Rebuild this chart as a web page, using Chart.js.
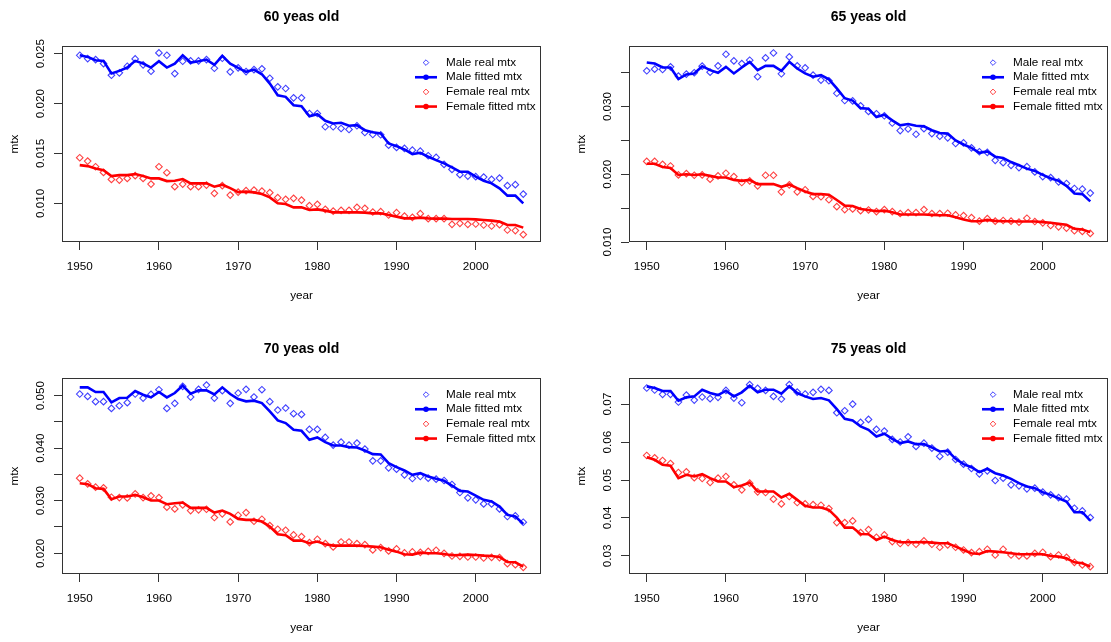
<!DOCTYPE html>
<html>
<head>
<meta charset="utf-8">
<script src="https://cdn.jsdelivr.net/npm/chart.js@4/dist/chart.umd.min.js"></script>
<style>
  body { margin: 0; background: #fff; overflow: hidden; }
  #wrap { position: relative; width: 1111px; height: 642px; overflow: hidden; background: #fff; }
  #wrap canvas { position: absolute; }
</style>
</head>
<body>
<div id="wrap">
  <canvas id="p60" width="567" height="332" style="left:0;top:0"></canvas>
  <canvas id="p65" width="567" height="332" style="left:567px;top:0"></canvas>
  <canvas id="p70" width="567" height="332" style="left:0;top:332px"></canvas>
  <canvas id="p75" width="567" height="332" style="left:567px;top:332px"></canvas>
</div>
<script>
// years 1950..2006
const years = [];
for (let y = 1950; y <= 2006; y++) years.push(y);

const xTicks = [1950, 1960, 1970, 1980, 1990, 2000];

// 60 years old
const m60Real = [0.02483,0.02450,0.02440,0.02400,0.02283,0.02307,0.02373,0.02447,0.02387,0.02323,
  0.02507,0.02483,0.02300,0.02423,0.02427,0.02427,0.02440,0.02353,0.02453,0.02317,
  0.02357,0.02320,0.02340,0.02347,0.02253,0.02167,0.02150,0.02057,0.02057,0.01900,
  0.01900,0.01767,0.01767,0.01750,0.01740,0.01777,0.01710,0.01690,0.01687,0.01583,
  0.01560,0.01550,0.01533,0.01523,0.01477,0.01460,0.01390,0.01340,0.01287,0.01273,
  0.01267,0.01263,0.01240,0.01253,0.01177,0.01187,0.01093];
const m60Fit = [0.02483,0.02467,0.02433,0.02427,0.02300,0.02327,0.02360,0.02427,0.02400,0.02360,
  0.02423,0.02360,0.02400,0.02483,0.02410,0.02423,0.02440,0.02387,0.02477,0.02400,
  0.02357,0.02317,0.02340,0.02293,0.02200,0.02083,0.02067,0.01983,0.01973,0.01873,
  0.01893,0.01827,0.01800,0.01807,0.01777,0.01783,0.01733,0.01713,0.01700,0.01600,
  0.01573,0.01540,0.01493,0.01507,0.01467,0.01433,0.01400,0.01360,0.01317,0.01317,
  0.01267,0.01227,0.01200,0.01150,0.01077,0.01077,0.01000];
const f60Real = [0.01457,0.01423,0.01367,0.01310,0.01240,0.01233,0.01250,0.01277,0.01250,0.01193,
  0.01367,0.01307,0.01167,0.01193,0.01167,0.01167,0.01183,0.01100,0.01177,0.01083,
  0.01113,0.01127,0.01133,0.01123,0.01107,0.01057,0.01040,0.01050,0.01033,0.00977,
  0.00990,0.00940,0.00923,0.00930,0.00930,0.00960,0.00950,0.00913,0.00917,0.00883,
  0.00907,0.00873,0.00860,0.00897,0.00847,0.00847,0.00847,0.00790,0.00800,0.00790,
  0.00793,0.00783,0.00773,0.00787,0.00733,0.00727,0.00687];
const f60Fit = [0.01383,0.01373,0.01350,0.01333,0.01273,0.01283,0.01283,0.01293,0.01273,0.01250,
  0.01250,0.01223,0.01227,0.01243,0.01200,0.01200,0.01200,0.01167,0.01187,0.01153,
  0.01113,0.01117,0.01110,0.01093,0.01060,0.01000,0.00993,0.00960,0.00960,0.00933,
  0.00940,0.00927,0.00910,0.00910,0.00910,0.00910,0.00907,0.00900,0.00900,0.00883,
  0.00867,0.00850,0.00850,0.00857,0.00850,0.00847,0.00847,0.00843,0.00843,0.00843,
  0.00840,0.00833,0.00827,0.00817,0.00783,0.00783,0.00757];

// 65 years old
const m65Real = [0.03527,0.03551,0.03546,0.03585,0.03449,0.03478,0.03498,0.03595,0.03507,0.03600,
  0.03771,0.03673,0.03634,0.03683,0.03439,0.03717,0.03790,0.03483,0.03732,0.03600,
  0.03571,0.03463,0.03390,0.03380,0.03195,0.03088,0.03083,0.03010,0.02927,0.02893,
  0.02863,0.02756,0.02644,0.02668,0.02590,0.02673,0.02600,0.02561,0.02537,0.02454,
  0.02463,0.02390,0.02332,0.02322,0.02205,0.02171,0.02132,0.02098,0.02112,0.02034,
  0.01966,0.01951,0.01888,0.01863,0.01790,0.01780,0.01722];
const m65Fit = [0.03649,0.03634,0.03576,0.03576,0.03405,0.03473,0.03488,0.03595,0.03537,0.03498,
  0.03585,0.03488,0.03576,0.03659,0.03537,0.03600,0.03600,0.03527,0.03659,0.03561,
  0.03488,0.03439,0.03463,0.03400,0.03268,0.03122,0.03088,0.02976,0.02966,0.02844,
  0.02878,0.02795,0.02722,0.02741,0.02717,0.02707,0.02649,0.02610,0.02600,0.02498,
  0.02439,0.02390,0.02317,0.02337,0.02259,0.02239,0.02180,0.02132,0.02083,0.02049,
  0.01990,0.01941,0.01902,0.01829,0.01717,0.01707,0.01600];
const f65Real = [0.02190,0.02190,0.02146,0.02122,0.01990,0.02010,0.01985,0.01990,0.01927,0.01976,
  0.02015,0.01966,0.01878,0.01902,0.01829,0.01985,0.01985,0.01741,0.01844,0.01741,
  0.01771,0.01673,0.01668,0.01624,0.01522,0.01478,0.01488,0.01463,0.01473,0.01449,
  0.01478,0.01449,0.01420,0.01434,0.01434,0.01478,0.01420,0.01420,0.01424,0.01400,
  0.01390,0.01361,0.01307,0.01346,0.01307,0.01317,0.01307,0.01293,0.01351,0.01302,
  0.01283,0.01244,0.01224,0.01205,0.01166,0.01156,0.01127];
const f65Fit = [0.02156,0.02156,0.02107,0.02093,0.01990,0.02000,0.01990,0.02000,0.01976,0.01951,
  0.01951,0.01917,0.01902,0.01917,0.01854,0.01854,0.01854,0.01815,0.01849,0.01795,
  0.01746,0.01707,0.01707,0.01698,0.01620,0.01537,0.01532,0.01488,0.01473,0.01454,
  0.01463,0.01439,0.01405,0.01405,0.01405,0.01405,0.01400,0.01395,0.01395,0.01366,
  0.01332,0.01307,0.01307,0.01327,0.01312,0.01307,0.01307,0.01302,0.01302,0.01302,
  0.01293,0.01283,0.01268,0.01254,0.01195,0.01185,0.01146];

// 70 years old
const m70Real = [0.05032,0.04987,0.04886,0.04886,0.04758,0.04809,0.04867,0.05032,0.04955,0.05025,
  0.05114,0.04758,0.04854,0.05178,0.04975,0.05121,0.05203,0.04955,0.05095,0.04854,
  0.05051,0.05121,0.04975,0.05114,0.04886,0.04727,0.04765,0.04657,0.04644,0.04358,
  0.04358,0.04205,0.04059,0.04116,0.04059,0.04097,0.03983,0.03760,0.03760,0.03627,
  0.03601,0.03493,0.03423,0.03462,0.03430,0.03411,0.03385,0.03309,0.03156,0.03055,
  0.03017,0.02940,0.02940,0.02845,0.02699,0.02711,0.02591];
const m70Fit = [0.05159,0.05159,0.05070,0.05070,0.04873,0.04955,0.04962,0.05089,0.05019,0.04968,
  0.05070,0.04968,0.05051,0.05191,0.05038,0.05102,0.05102,0.05025,0.05159,0.05032,
  0.04936,0.04892,0.04905,0.04860,0.04701,0.04530,0.04479,0.04352,0.04332,0.04161,
  0.04205,0.04116,0.04053,0.04053,0.04021,0.04015,0.03957,0.03887,0.03881,0.03716,
  0.03640,0.03576,0.03493,0.03525,0.03462,0.03417,0.03379,0.03290,0.03188,0.03175,
  0.03099,0.03017,0.02985,0.02889,0.02730,0.02699,0.02559];
const f70Real = [0.03430,0.03322,0.03258,0.03245,0.03067,0.03060,0.03054,0.03131,0.03060,0.03093,
  0.03060,0.02877,0.02845,0.02921,0.02813,0.02826,0.02838,0.02680,0.02750,0.02597,
  0.02724,0.02775,0.02610,0.02648,0.02527,0.02457,0.02438,0.02349,0.02317,0.02203,
  0.02266,0.02184,0.02120,0.02215,0.02215,0.02184,0.02165,0.02063,0.02107,0.02044,
  0.02082,0.02006,0.02025,0.02018,0.02037,0.02057,0.01999,0.01948,0.01942,0.01929,
  0.01929,0.01910,0.01923,0.01917,0.01802,0.01783,0.01732];
const f70Fit = [0.03334,0.03315,0.03239,0.03226,0.03029,0.03080,0.03080,0.03112,0.03067,0.03004,
  0.03004,0.02934,0.02953,0.02966,0.02864,0.02864,0.02864,0.02775,0.02813,0.02750,
  0.02654,0.02635,0.02635,0.02603,0.02508,0.02362,0.02343,0.02241,0.02241,0.02190,
  0.02222,0.02171,0.02146,0.02146,0.02146,0.02146,0.02139,0.02127,0.02114,0.02069,
  0.02031,0.01980,0.01974,0.02012,0.01999,0.01999,0.01987,0.01961,0.01968,0.01974,
  0.01968,0.01955,0.01948,0.01929,0.01834,0.01828,0.01745];

// 75 years old
const m75Real = [0.07422,0.07369,0.07255,0.07255,0.07053,0.07237,0.07105,0.07185,0.07141,0.07176,
  0.07360,0.07158,0.07035,0.07510,0.07413,0.07360,0.07202,0.07132,0.07510,0.07316,
  0.07264,0.07308,0.07387,0.07360,0.06771,0.06824,0.07000,0.06516,0.06596,0.06332,
  0.06288,0.06068,0.06000,0.06138,0.05884,0.05971,0.05840,0.05620,0.05734,0.05541,
  0.05418,0.05303,0.05163,0.05242,0.04987,0.05048,0.04873,0.04846,0.04767,0.04785,
  0.04679,0.04609,0.04538,0.04495,0.04257,0.04187,0.04011];
const m75Fit = [0.07466,0.07422,0.07343,0.07343,0.07088,0.07176,0.07202,0.07378,0.07290,0.07237,
  0.07352,0.07202,0.07308,0.07484,0.07308,0.07378,0.07378,0.07273,0.07466,0.07290,
  0.07202,0.07132,0.07158,0.07097,0.06868,0.06613,0.06569,0.06411,0.06323,0.06147,
  0.06218,0.06086,0.05971,0.06015,0.05945,0.05945,0.05857,0.05752,0.05769,0.05558,
  0.05418,0.05338,0.05207,0.05295,0.05180,0.05119,0.05031,0.04916,0.04829,0.04785,
  0.04679,0.04609,0.04521,0.04433,0.04152,0.04152,0.03932];
const f75Real = [0.05646,0.05585,0.05514,0.05435,0.05198,0.05215,0.05062,0.05040,0.04934,0.05048,
  0.05092,0.04873,0.04741,0.04916,0.04688,0.04670,0.04495,0.04371,0.04565,0.04407,
  0.04371,0.04354,0.04336,0.04248,0.03879,0.03879,0.03923,0.03615,0.03695,0.03492,
  0.03554,0.03378,0.03327,0.03352,0.03308,0.03396,0.03308,0.03229,0.03290,0.03229,
  0.03158,0.03088,0.03114,0.03176,0.03026,0.03176,0.03026,0.03000,0.03000,0.03070,
  0.03097,0.02982,0.03026,0.02965,0.02833,0.02763,0.02719];
const f75Fit = [0.05602,0.05532,0.05400,0.05374,0.05048,0.05136,0.05092,0.05154,0.05048,0.04960,
  0.04960,0.04811,0.04855,0.04934,0.04697,0.04697,0.04697,0.04538,0.04635,0.04477,
  0.04319,0.04275,0.04275,0.04213,0.04011,0.03747,0.03747,0.03580,0.03571,0.03422,
  0.03510,0.03422,0.03360,0.03360,0.03360,0.03369,0.03352,0.03334,0.03334,0.03246,
  0.03158,0.03070,0.03053,0.03132,0.03114,0.03097,0.03070,0.03044,0.03044,0.03053,
  0.03044,0.03000,0.02982,0.02938,0.02833,0.02807,0.02719];

// y axis ticks and labels per panel
const yTicks60 = [0.010, 0.015, 0.020, 0.025];
const yLabels60 = ['0.010', '0.015', '0.020', '0.025'];
const yTicks65 = [0.010, 0.015, 0.020, 0.025, 0.030, 0.035];
const yLabels65 = ['0.010', '', '0.020', '', '0.030', ''];
const yTicks70 = [0.020, 0.025, 0.030, 0.035, 0.040, 0.045, 0.050];
const yLabels70 = ['0.020', '', '0.030', '', '0.040', '', '0.050'];
const yTicks75 = [0.03, 0.04, 0.05, 0.06, 0.07];
const yLabels75 = ['0.03', '0.04', '0.05', '0.06', '0.07'];

const seriesNames = ['Male real mtx', 'Male fitted mtx', 'Female real mtx', 'Female fitted mtx'];

Chart.defaults.font.family = '"Liberation Sans", Arial, sans-serif';
Chart.defaults.font.size = 11.7;
Chart.defaults.color = '#000';

const FONT = '11.7px "Liberation Sans", Arial, sans-serif';
const meas = document.createElement('canvas').getContext('2d');
meas.font = FONT;

// box round the plot region, like R's box()
const frame = {
  id: 'frame',
  beforeDatasetsDraw(chart) {
    const { ctx, chartArea: a } = chart;
    ctx.save();
    ctx.strokeStyle = '#333';
    ctx.lineWidth = 1;
    ctx.strokeRect(Math.round(a.left) + 0.5, Math.round(a.top) + 0.5, Math.round(a.width) - 1, Math.round(a.height) - 1);
    ctx.restore();
  }
};

// legend inside the top right corner, no box
const rLegend = {
  id: 'rLegend',
  afterDraw(chart) {
    const { ctx, chartArea: a } = chart;
    const cx = a.right - 115;
    const tx = a.right - 95;
    chart.data.datasets.forEach((ds, i) => {
      const y = a.top + 16.6 + i * 14.65;
      ctx.save();
      ctx.strokeStyle = ds.borderColor;
      ctx.fillStyle = ds.borderColor;
      if (ds.showLine === false) {
        const r = 2.8;
        ctx.lineWidth = 1;
        ctx.beginPath();
        ctx.moveTo(cx, y - r); ctx.lineTo(cx + r, y); ctx.lineTo(cx, y + r); ctx.lineTo(cx - r, y);
        ctx.closePath();
        ctx.stroke();
      } else {
        ctx.lineWidth = 2.6;
        ctx.beginPath();
        ctx.moveTo(cx - 11, y); ctx.lineTo(cx + 11, y);
        ctx.stroke();
        ctx.beginPath();
        ctx.arc(cx, y, 2.8, 0, Math.PI * 2);
        ctx.fill();
      }
      ctx.fillStyle = '#000';
      ctx.font = FONT;
      ctx.textBaseline = 'middle';
      ctx.textAlign = 'left';
      ctx.fillText(ds.label, tx, y);
      ctx.restore();
    });
  }
};

function panel(id, title, mReal, mFit, fReal, fFit, yMin, yMax, yTicks, yLabels) {
  const widest = Math.max(...yLabels.map(t => meas.measureText(t).width));
  const realSet = (label, data, color) => ({
    label, data, borderColor: color, backgroundColor: 'rgba(0,0,0,0)',
    showLine: false, pointStyle: 'rectRot', pointRadius: 3.3, pointBorderWidth: 1.1, order: 1
  });
  const fitSet = (label, data, color) => ({
    label, data, borderColor: color, backgroundColor: color,
    borderWidth: 2.6, pointRadius: 0, tension: 0, order: 0
  });
  return new Chart(document.getElementById(id), {
    type: 'line',
    data: {
      labels: years,
      datasets: [
        realSet(seriesNames[0], mReal, 'rgba(0,0,255,0.75)'),
        fitSet(seriesNames[1], mFit, '#0000ff'),
        realSet(seriesNames[2], fReal, 'rgba(255,0,0,0.75)'),
        fitSet(seriesNames[3], fFit, '#ff0000')
      ]
    },
    options: {
      responsive: false,
      animation: false,
      events: [],
      layout: { padding: { left: 0, right: 26, top: 0, bottom: 0 } },
      plugins: {
        legend: { display: false },
        tooltip: { enabled: false },
        title: {
          display: true, text: title, fullSize: false,
          font: { size: 14, weight: 'bold' }, color: '#000',
          padding: { top: 9, bottom: 20.2 }
        }
      },
      scales: {
        x: {
          type: 'linear', min: 1947.76, max: 2008.24,
          afterBuildTicks: s => { s.ticks = xTicks.map(v => ({ value: v })); },
          afterFit: s => { s.height = 90; },
          grid: { drawOnChartArea: false, tickLength: 8, tickColor: '#333' },
          border: { display: false },
          ticks: { padding: 10, autoSkip: false, maxRotation: 0, callback: v => String(v) },
          title: { display: true, text: 'year', padding: { top: 0, bottom: 29 } }
        },
        y: {
          min: yMin, max: yMax,
          afterBuildTicks: s => { s.ticks = yTicks.map(v => ({ value: v })); },
          afterFit: s => { s.width = 62; },
          grid: { drawOnChartArea: false, tickLength: 8, tickColor: '#333' },
          border: { display: false },
          ticks: {
            autoSkip: false, minRotation: 90, maxRotation: 90, crossAlign: 'center',
            padding: 13.5 - widest / 2,
            callback: (v, i) => yLabels[i]
          },
          title: { display: true, text: 'mtx', padding: { top: 8, bottom: 0 } }
        }
      }
    },
    plugins: [frame, rLegend]
  });
}

panel('p60', '60 yeas old', m60Real, m60Fit, f60Real, f60Fit, 0.00613, 0.02576, yTicks60, yLabels60);
panel('p65', '65 yeas old', m65Real, m65Fit, f65Real, f65Fit, 0.0100, 0.03893, yTicks65, yLabels65);
panel('p70', '70 yeas old', m70Real, m70Fit, f70Real, f70Fit, 0.01605, 0.05337, yTicks70, yLabels70);
panel('p75', '75 yeas old', m75Real, m75Fit, f75Real, f75Fit, 0.02525, 0.07686, yTicks75, yLabels75);
</script>
</body>
</html>
